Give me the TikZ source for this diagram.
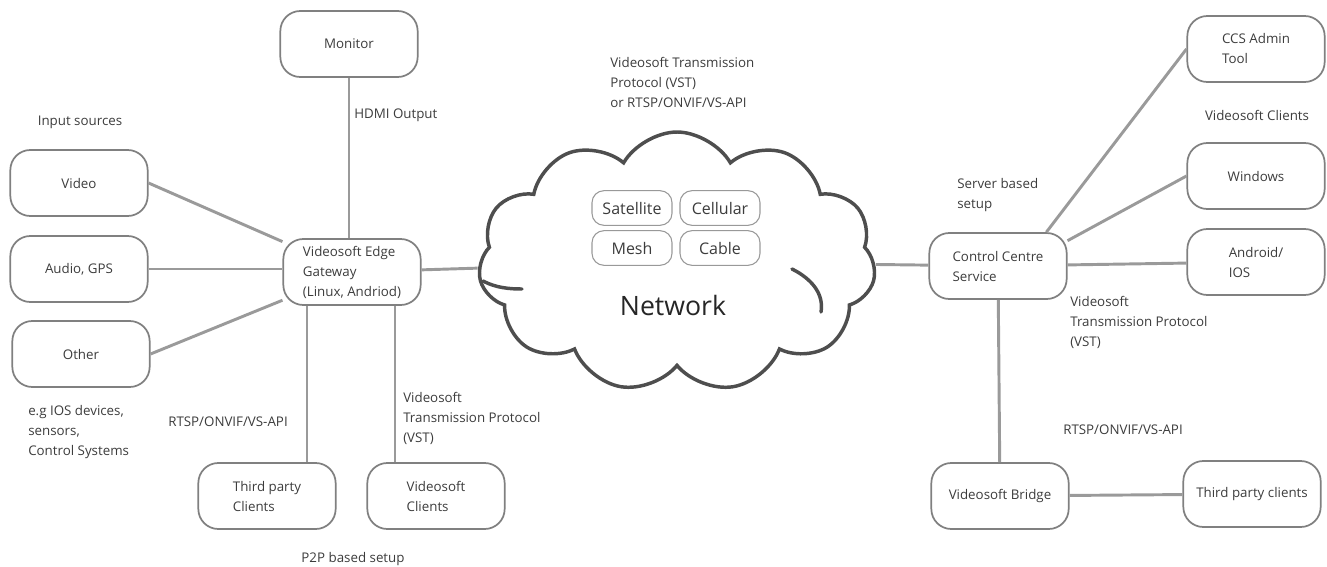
\documentclass[tikz,border=0pt]{standalone}
\usepackage{fontspec}
\setmainfont{Open Sans}
\usetikzlibrary{shapes.symbols}
\definecolor{linegray}{HTML}{9A9A9A}
\definecolor{boxgray}{HTML}{808080}
\definecolor{txtgray}{HTML}{3C3C3C}
\definecolor{cloudgray}{HTML}{4E4E4E}

\begin{document}
\begin{tikzpicture}[x=0.75pt,y=-0.75pt,
    every node/.style={text=txtgray,font=\fontsize{10}{15}\selectfont},
    dev/.style={draw=boxgray,line width=1.3pt,rounded corners=15pt,minimum width=103pt,minimum height=49.5pt,align=left},
    tech/.style={draw=boxgray!80,line width=0.8pt,rounded corners=9pt,minimum width=60pt,minimum height=26pt,font=\fontsize{12}{14}\selectfont},
    lbl/.style={inner sep=0pt,align=left},
    link/.style={draw=linegray,line width=2.2pt},
    puff/.style={draw=cloudgray,line width=2.6pt,line cap=round}]
        \useasboundingbox (0,0) rectangle (1327,567);
        % edge gateway side
        \node[dev] (mon) at (349,44) {Monitor};
        \node[dev] (vid) at (79,183) {Video};
        \node[dev] (aud) at (79,269) {Audio, GPS};
        \node[dev] (oth) at (81,354) {Other};
        \node[dev] (gw) at (352,272) {Videosoft Edge\\Gateway\\(Linux, Andriod)};
        \node[dev] (tp) at (267,496) {Third party\\Clients};
        \node[dev] (vc) at (436,496) {Videosoft\\Clients};
        % network
        \node[cloud,puff,cloud puffs=11,cloud puff arc=120,aspect=1.5,minimum width=298pt,minimum height=195pt] (net) at (677,262) {};
        \draw[puff] (483,281) .. controls (496,288) and (510,289) .. (522,289);
        \draw[puff] (792,269) .. controls (812,279) and (824,294) .. (821,312);
        \node[tech] (sat) at (632,208) {Satellite};
        \node[tech] (cel) at (720,208) {Cellular};
        \node[tech] (mesh) at (632,248) {Mesh};
        \node[tech] (cab) at (720,248) {Cable};
        \node[font=\fontsize{20}{24}\selectfont,text=black!85] (netl) at (673,305) {Network};
        % server side
        \node[dev] (ccs) at (998,266) {Control Centre\\Service};
        \node[dev] (adm) at (1256,49) {CCS Admin\\Tool};
        \node[dev] (win) at (1256,176) {Windows};
        \node[dev] (and) at (1256,262) {Android/\\IOS};
        \node[dev] (bri) at (1000,496) {Videosoft Bridge};
        \node[dev] (tpr) at (1252,494) {Third party clients};
        % labels
        \node[lbl] (insrc) at (80,122) {Input sources};
        \node[lbl,anchor=west] (hdmi) at (354,115) {HDMI Output};
        \node[lbl,anchor=west] (eg) at (28,432) {e.g IOS devices,\\sensors,\\Control Systems};
        \node[lbl,anchor=west] (rtspl) at (168,422) {RTSP/ONVIF/VS-API};
        \node[lbl,anchor=west] (vstl) at (403,418) {Videosoft\\Transmission Protocol\\(VST)};
        \node[lbl] (p2p) at (353,559) {P2P based setup};
        \node[lbl,anchor=west] (proto) at (610,82) {Videosoft Transmission\\Protocol (VST)\\or RTSP/ONVIF/VS-API};
        \node[lbl,anchor=west] (srv) at (957,195) {Server based\\setup};
        \node[lbl] (vcl) at (1257,115) {Videosoft Clients};
        \node[lbl,anchor=west] (vstr) at (1070,322) {Videosoft\\Transmission Protocol\\(VST)};
        \node[lbl,anchor=west] (rtspr) at (1063,430) {RTSP/ONVIF/VS-API};
        % connections
        \draw[link] (mon.south) -- (mon.south |- gw.north);
        \draw[link] (vid.east) -- (gw);
        \draw[link] (aud.east) -- (aud.east -| gw.west);
        \draw[link] (oth.east) -- (gw);
        \draw[link] ([xshift=-33.75pt]gw.south) -- ([xshift=-33.75pt]gw.south |- tp.north);
        \draw[link] ([xshift=32.25pt]gw.south) -- ([xshift=32.25pt]gw.south |- vc.north);
        \draw[link] (gw) -- (net);
        \draw[link] (net) -- (ccs);
        \draw[link] (ccs.35) -- (adm.west);
        \draw[link] (ccs.20) -- (win.west);
        \draw[link] (ccs) -- (and);
        \draw[link] (ccs) -- (bri);
        \draw[link] (bri) -- (tpr);
\end{tikzpicture}
\end{document}
